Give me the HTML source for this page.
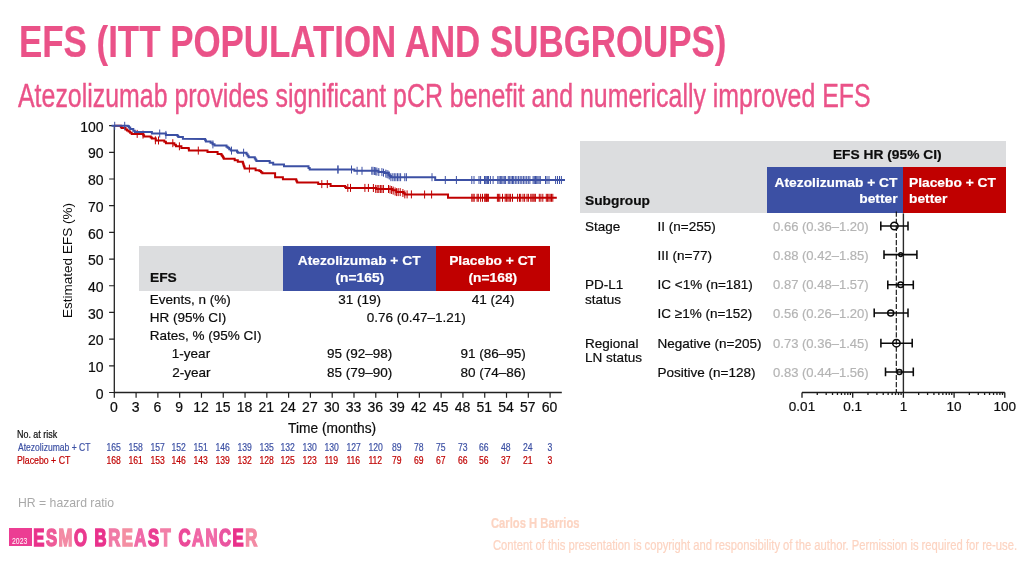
<!DOCTYPE html>
<html lang="en"><head><meta charset="utf-8"><title>EFS (ITT population and subgroups)</title>
<style>
html,body{margin:0;padding:0;background:#fff}
body{width:1031px;height:572px;position:relative;overflow:hidden;font-family:"Liberation Sans",sans-serif}
.t{position:absolute;white-space:nowrap;margin:0;-webkit-text-stroke:0.2px currentColor}
.b{position:absolute}
.sub{-webkit-text-stroke:0.4px #ea5288}
.ns{-webkit-text-stroke:0}
svg{position:absolute;left:0;top:0}
svg text{font-family:"Liberation Sans",sans-serif}
</style></head><body>
<div class="b" style="left:139.3px;top:246.4px;width:143.7px;height:44.2px;background:#dcdddf"></div><div class="b" style="left:282.8px;top:246.4px;width:153.5px;height:44.2px;background:#3c50a4"></div><div class="b" style="left:436.2px;top:246.4px;width:114.2px;height:44.2px;background:#c00000"></div><div class="b" style="left:579.6px;top:141.3px;width:426.1px;height:72.1px;background:#dcdddf"></div><div class="b" style="left:767.3px;top:167.2px;width:136.1px;height:46.2px;background:#3c50a4"></div><div class="b" style="left:903.3px;top:167.2px;width:102.4px;height:46.2px;background:#c00000"></div>
<div class="b" style="left:9.1px;top:528.1px;width:22.7px;height:17.8px;background:#ec3d93"></div>
<svg width="1031" height="572" viewBox="0 0 1031 572">
<path d="M114.3 125.1V392.5H561.8" fill="none" stroke="#222" stroke-width="1.3"/>
<path d="M109.1 392.50H114.3M109.1 365.81H114.3M109.1 339.12H114.3M109.1 312.43H114.3M109.1 285.74H114.3M109.1 259.05H114.3M109.1 232.36H114.3M109.1 205.67H114.3M109.1 178.98H114.3M109.1 152.29H114.3M109.1 125.60H114.3M114.30 392.5v5.2M136.09 392.5v5.2M157.88 392.5v5.2M179.67 392.5v5.2M201.46 392.5v5.2M223.25 392.5v5.2M245.04 392.5v5.2M266.83 392.5v5.2M288.62 392.5v5.2M310.41 392.5v5.2M332.20 392.5v5.2M353.99 392.5v5.2M375.78 392.5v5.2M397.57 392.5v5.2M419.36 392.5v5.2M441.15 392.5v5.2M462.94 392.5v5.2M484.73 392.5v5.2M506.52 392.5v5.2M528.31 392.5v5.2M550.10 392.5v5.2" fill="none" stroke="#222" stroke-width="1.2"/>
<path d="M114.7 125.8L120.1 125.8H120.85V126.95H121.60V128.10H125.50V129.60H127.05V130.60H128.60V131.60H130.15V132.75H131.70V133.90L142.6 133.9H143.35V135.25H144.10V136.60L149.6 136.6H150.75V137.60H151.90V138.60H155.80V140.50L162.8 140.5H164.35V141.85H165.90V143.20L172.8 143.2H174.35V144.75H175.90V146.30L179.8 146.3H181.40V147.90L186.8 147.9H188.50V148.50H188.90V150.60L206.7 150.6H207.50V152.10L216.0 152.1H217.60V154.00L220.7 154.0H221.47V155.18H222.25V156.35H223.03V157.52H223.80V158.70L233.1 158.7H234.70V160.30H237.80V161.80L242.4 161.8H242.86V163.16H243.32V164.52H243.78V165.88H244.24V167.24H244.70V168.60L254.0 168.6H255.60V170.30H259.50V171.10H260.90V172.20H262.30V173.30L274.7 173.3H275.10V177.20L282.1 177.2H282.90V179.30L295.7 179.3H296.20V180.40H296.70V181.50H297.20V182.60L317.4 182.6H318.20V184.10L329.8 184.1H330.60V185.90L344.3 185.9H345.10V186.90H345.90V187.90L373.0 187.9H376.10V189.00L388.5 189.0H392.40V190.20H396.30V192.10L401.7 192.1H403.25V193.25H404.80V194.40L447.2 194.6H448.00V197.80L556.8 197.8" fill="none" stroke="#c00000" stroke-width="2" stroke-linejoin="miter"/>
<path d="M137.2 129.9v8M143.0 130.6v8M155.4 136.3v8M158.5 136.5v8M172.8 139.2v8M179.4 142.3v8M198.3 146.6v8M249.4 164.6v8M321.8 180.1v8M327.3 180.1v8M347.8 183.9v8M350.5 183.9v8M364.9 183.9v8M368.4 183.9v8M373.4 184.0v8M375.7 184.9v8M377.2 185.0v8M378.8 185.0v8M380.4 185.0v8M381.9 185.0v8M383.4 185.0v8M388.5 185.0v8M390.0 185.5v8M391.6 186.0v8M393.2 186.6v8M395.1 187.5v8M396.6 188.1v8M398.2 188.1v8M400.2 188.1v8M402.9 189.0v8M404.8 190.4v8M407.1 190.4v8M411.4 190.4v8M424.6 190.5v8M431.6 190.5v8M471.8 193.8v8M473.0 193.8v8M474.2 193.8v8M477.1 193.8v8M478.3 193.8v8M480.6 193.8v8M482.5 193.8v8M484.9 193.8v8M486.4 193.8v8M488.4 193.8v8M485.0 193.8v8M486.2 193.8v8M487.4 193.8v8M497.4 193.8v8M498.6 193.8v8M499.8 193.8v8M502.5 193.8v8M505.2 193.8v8M506.6 193.8v8M507.9 193.8v8M509.2 193.8v8M510.6 193.8v8M512.5 193.8v8M517.6 193.8v8M519.5 193.8v8M520.7 193.8v8M523.0 193.8v8M524.6 193.8v8M527.0 193.8v8M528.4 193.8v8M530.8 193.8v8M532.0 193.8v8M533.1 193.8v8M534.2 193.8v8M535.4 193.8v8M539.3 193.8v8M540.9 193.8v8M542.8 193.8v8M546.3 193.8v8M547.6 193.8v8M548.9 193.8v8M550.2 193.8v8M551.5 193.8v8M552.8 193.8v8" fill="none" stroke="#c00000" stroke-width="1"/>
<path d="M111.5 125.8L124.7 125.8H127.80V126.30H129.00V127.60H130.20V128.90H133.30V130.80H134.80V132.10L150.3 132.1H151.90V133.50L162.8 133.5H165.90V134.90L176.7 134.9H177.50V135.95H178.30V137.00L181.5 137.0H182.90V138.80L204.4 138.9H205.15V140.25H205.90V141.60H210.60V142.80H212.55V144.15H214.50V145.50L225.3 145.5H226.50V146.65H227.70V147.80H229.25V149.20H230.80V150.60L236.2 150.6H237.00V151.65H237.80V152.70L245.5 152.7H246.53V154.20H247.57V155.70H248.60V157.20L254.0 157.2H254.80V158.47H255.60V159.73H256.40V161.00L268.9 160.9H269.70V162.80L272.4 162.8H273.20V164.40L283.3 164.4H284.00V166.30L307.3 166.3H308.50V167.90H309.70V169.50L352.8 169.5H354.40V170.80L373.8 170.8H378.40V172.00L381.5 172.0H384.60V173.10H388.50V174.70H389.70V175.95H390.90V177.20L434.8 177.2H435.20V180.00L565.0 180.0" fill="none" stroke="#3c50a4" stroke-width="2" stroke-linejoin="miter"/>
<path d="M114.7 121.8v8M124.7 121.8v8M159.7 129.5v8M165.9 130.9v8M212.9 140.4v8M231.5 146.6v8M243.6 148.7v8M338.0 165.5v8M337.9 165.5v8M351.5 165.5v8M357.1 166.8v8M362.0 166.8v8M371.8 166.8v8M373.0 166.8v8M374.6 167.0v8M375.7 167.3v8M376.9 167.6v8M378.8 168.0v8M381.9 168.1v8M383.5 168.7v8M385.8 169.6v8M387.0 170.1v8M388.1 170.5v8M389.3 171.5v8M390.9 173.2v8M392.8 173.2v8M394.3 173.2v8M395.9 173.2v8M397.5 173.2v8M399.0 173.2v8M400.6 173.2v8M404.8 173.2v8M406.4 173.2v8M432.0 173.2v8M445.3 176.0v8M456.4 176.0v8M471.8 176.0v8M474.0 176.0v8M479.0 176.0v8M480.6 176.0v8M484.5 176.0v8M485.7 176.0v8M486.8 176.0v8M487.6 176.0v8M488.5 176.0v8M490.4 176.0v8M493.1 176.0v8M497.8 176.0v8M499.1 176.0v8M500.4 176.0v8M501.7 176.0v8M503.0 176.0v8M504.3 176.0v8M505.6 176.0v8M508.3 176.0v8M509.7 176.0v8M511.1 176.0v8M512.5 176.0v8M513.7 176.0v8M515.3 176.0v8M516.9 176.0v8M518.6 176.0v8M520.2 176.0v8M521.8 176.0v8M523.4 176.0v8M525.0 176.0v8M526.7 176.0v8M528.3 176.0v8M529.9 176.0v8M533.1 176.0v8M534.3 176.0v8M535.5 176.0v8M536.7 176.0v8M537.9 176.0v8M539.1 176.0v8M540.3 176.0v8M545.5 176.0v8M547.0 176.0v8M549.0 176.0v8M555.6 176.0v8M557.5 176.0v8M559.5 176.0v8M561.4 176.0v8" fill="none" stroke="#3c50a4" stroke-width="1"/>
<text transform="translate(72.3,317.9) rotate(-90)" font-size="13.5" fill="#0c0c0c">Estimated EFS (%)</text>
<path d="M896.3 211.6V392.5" stroke="#0a0a0a" stroke-width="1.1" stroke-dasharray="5.2 1.9" fill="none"/>
<path d="M903.4 213.4V392.5" stroke="#2a2a2a" stroke-width="1.4" fill="none"/>
<path d="M802.0 392.5H1004.8M802.00 392.5v5.2M817.26 392.5v2.6M826.19 392.5v2.6M832.52 392.5v2.6M837.44 392.5v2.6M841.45 392.5v2.6M844.85 392.5v2.6M847.79 392.5v2.6M850.38 392.5v2.6M852.70 392.5v5.2M867.96 392.5v2.6M876.89 392.5v2.6M883.22 392.5v2.6M888.14 392.5v2.6M892.15 392.5v2.6M895.55 392.5v2.6M898.49 392.5v2.6M901.08 392.5v2.6M903.40 392.5v5.2M918.66 392.5v2.6M927.59 392.5v2.6M933.92 392.5v2.6M938.84 392.5v2.6M942.85 392.5v2.6M946.25 392.5v2.6M949.19 392.5v2.6M951.78 392.5v2.6M954.10 392.5v5.2M969.36 392.5v2.6M978.29 392.5v2.6M984.62 392.5v2.6M989.54 392.5v2.6M993.55 392.5v2.6M996.95 392.5v2.6M999.89 392.5v2.6M1002.48 392.5v2.6M1004.80 392.5v5.2" stroke="#1a1a1a" stroke-width="1.3" fill="none"/>
<circle cx="894.4" cy="226.0" r="3.7" fill="none" stroke="#0a0a0a" stroke-width="1.5"/>
<circle cx="900.7" cy="254.6" r="1.9" fill="none" stroke="#0a0a0a" stroke-width="1.5"/>
<circle cx="900.6" cy="284.8" r="2.8" fill="none" stroke="#0a0a0a" stroke-width="1.5"/>
<circle cx="890.7" cy="312.9" r="3.0" fill="none" stroke="#0a0a0a" stroke-width="1.5"/>
<circle cx="896.4" cy="343.2" r="3.7" fill="none" stroke="#0a0a0a" stroke-width="1.5"/>
<circle cx="899.4" cy="371.9" r="2.5" fill="none" stroke="#0a0a0a" stroke-width="1.5"/>
<path d="M880.8 221.6v8.8M908.0 221.6v8.8M880.8 226.0H908.0M884.0 250.2v8.8M916.9 250.2v8.8M884.0 254.6H916.9M887.8 280.4v8.8M913.3 280.4v8.8M887.8 284.8H913.3M874.2 308.5v8.8M908.0 308.5v8.8M874.2 312.9H908.0M880.9 338.8v8.8M912.2 338.8v8.8M880.9 343.2H912.2M885.5 367.5v8.8M913.3 367.5v8.8M885.5 371.9H913.3" stroke="#0a0a0a" stroke-width="1.55" fill="none"/>
<text transform="translate(33.28,545.60) scale(0.6968,1)" font-size="23.9" font-weight="700" stroke-width="1.6" stroke-linejoin="miter" letter-spacing="2.2" xml:space="preserve"><tspan fill="#e9318b" stroke="#e9318b">E</tspan><tspan fill="#ee5b98" stroke="#ee5b98">S</tspan><tspan fill="#f38aa4" stroke="#f38aa4">M</tspan><tspan fill="#ea3a8f" stroke="#ea3a8f">O</tspan> <tspan fill="#e9328c" stroke="#e9328c">B</tspan><tspan fill="#f07aa6" stroke="#f07aa6">R</tspan><tspan fill="#f48fa3" stroke="#f48fa3">E</tspan><tspan fill="#f06aa8" stroke="#f06aa8">A</tspan><tspan fill="#ea3f93" stroke="#ea3f93">S</tspan><tspan fill="#f27fa8" stroke="#f27fa8">T</tspan> <tspan fill="#ec4a99" stroke="#ec4a99">C</tspan><tspan fill="#f066a6" stroke="#f066a6">A</tspan><tspan fill="#f06aa8" stroke="#f06aa8">N</tspan><tspan fill="#ea55a0" stroke="#ea55a0">C</tspan><tspan fill="#e9318b" stroke="#e9318b">E</tspan><tspan fill="#f38aa4" stroke="#f38aa4">R</tspan></text>
</svg>
<div class="t " style="left:18.67px;top:16px;font-size:44.9px;line-height:51px;color:#ea5288;font-weight:700;transform:scaleX(0.7772);transform-origin:0 0;">EFS (ITT POPULATION AND SUBGROUPS)</div>
<div class="t sub" style="left:18.15px;top:78px;font-size:32.4px;line-height:36px;color:#ea5288;transform:scaleX(0.7688);transform-origin:0 0;">Atezolizumab provides significant pCR benefit and numerically improved EFS</div>
<div class="t " style="left:95.81px;top:386px;font-size:14px;line-height:16px;color:#0c0c0c;">0</div>
<div class="t " style="left:88.03px;top:359px;font-size:14px;line-height:16px;color:#0c0c0c;">10</div>
<div class="t " style="left:88.03px;top:332px;font-size:14px;line-height:16px;color:#0c0c0c;">20</div>
<div class="t " style="left:88.03px;top:306px;font-size:14px;line-height:16px;color:#0c0c0c;">30</div>
<div class="t " style="left:88.03px;top:279px;font-size:14px;line-height:16px;color:#0c0c0c;">40</div>
<div class="t " style="left:88.03px;top:252px;font-size:14px;line-height:16px;color:#0c0c0c;">50</div>
<div class="t " style="left:88.03px;top:226px;font-size:14px;line-height:16px;color:#0c0c0c;">60</div>
<div class="t " style="left:88.03px;top:199px;font-size:14px;line-height:16px;color:#0c0c0c;">70</div>
<div class="t " style="left:88.03px;top:172px;font-size:14px;line-height:16px;color:#0c0c0c;">80</div>
<div class="t " style="left:88.03px;top:145px;font-size:14px;line-height:16px;color:#0c0c0c;">90</div>
<div class="t " style="left:80.24px;top:119px;font-size:14px;line-height:16px;color:#0c0c0c;">100</div>
<div class="t " style="left:109.91px;top:399px;font-size:14px;line-height:16px;color:#0c0c0c;">0</div>
<div class="t " style="left:131.70px;top:399px;font-size:14px;line-height:16px;color:#0c0c0c;">3</div>
<div class="t " style="left:153.49px;top:399px;font-size:14px;line-height:16px;color:#0c0c0c;">6</div>
<div class="t " style="left:175.28px;top:399px;font-size:14px;line-height:16px;color:#0c0c0c;">9</div>
<div class="t " style="left:193.17px;top:399px;font-size:14px;line-height:16px;color:#0c0c0c;">12</div>
<div class="t " style="left:214.96px;top:399px;font-size:14px;line-height:16px;color:#0c0c0c;">15</div>
<div class="t " style="left:236.75px;top:399px;font-size:14px;line-height:16px;color:#0c0c0c;">18</div>
<div class="t " style="left:258.54px;top:399px;font-size:14px;line-height:16px;color:#0c0c0c;">21</div>
<div class="t " style="left:280.33px;top:399px;font-size:14px;line-height:16px;color:#0c0c0c;">24</div>
<div class="t " style="left:302.12px;top:399px;font-size:14px;line-height:16px;color:#0c0c0c;">27</div>
<div class="t " style="left:323.91px;top:399px;font-size:14px;line-height:16px;color:#0c0c0c;">30</div>
<div class="t " style="left:345.70px;top:399px;font-size:14px;line-height:16px;color:#0c0c0c;">33</div>
<div class="t " style="left:367.49px;top:399px;font-size:14px;line-height:16px;color:#0c0c0c;">36</div>
<div class="t " style="left:389.28px;top:399px;font-size:14px;line-height:16px;color:#0c0c0c;">39</div>
<div class="t " style="left:411.07px;top:399px;font-size:14px;line-height:16px;color:#0c0c0c;">42</div>
<div class="t " style="left:432.86px;top:399px;font-size:14px;line-height:16px;color:#0c0c0c;">45</div>
<div class="t " style="left:454.65px;top:399px;font-size:14px;line-height:16px;color:#0c0c0c;">48</div>
<div class="t " style="left:476.44px;top:399px;font-size:14px;line-height:16px;color:#0c0c0c;">51</div>
<div class="t " style="left:498.23px;top:399px;font-size:14px;line-height:16px;color:#0c0c0c;">54</div>
<div class="t " style="left:520.02px;top:399px;font-size:14px;line-height:16px;color:#0c0c0c;">57</div>
<div class="t " style="left:541.81px;top:399px;font-size:14px;line-height:16px;color:#0c0c0c;">60</div>
<div class="t " style="left:287.99px;top:420px;font-size:14px;line-height:16px;color:#0c0c0c;transform:scaleX(0.9827);transform-origin:0 0;">Time (months)</div>
<div class="t " style="left:149.68px;top:270px;font-size:13.5px;line-height:15px;color:#0c0c0c;font-weight:700;transform:scaleX(1.0200);transform-origin:0 0;">EFS</div>
<div class="t " style="left:299.31px;top:253px;font-size:13.5px;line-height:15px;color:#fff;font-weight:700;transform:scaleX(1.0200);transform-origin:50% 0;">Atezolizumab + CT</div>
<div class="t " style="left:335.68px;top:270px;font-size:13.5px;line-height:15px;color:#fff;font-weight:700;transform:scaleX(1.0200);transform-origin:50% 0;">(n=165)</div>
<div class="t " style="left:450.42px;top:253px;font-size:13.5px;line-height:15px;color:#fff;font-weight:700;transform:scaleX(1.0200);transform-origin:50% 0;">Placebo + CT</div>
<div class="t " style="left:469.18px;top:270px;font-size:13.5px;line-height:15px;color:#fff;font-weight:700;transform:scaleX(1.0200);transform-origin:50% 0;">(n=168)</div>
<div class="t " style="left:149.69px;top:292px;font-size:13.5px;line-height:15px;color:#0c0c0c;">Events, n (%)</div>
<div class="t " style="left:149.69px;top:310px;font-size:13.5px;line-height:15px;color:#0c0c0c;">HR (95% CI)</div>
<div class="t " style="left:149.69px;top:328px;font-size:13.5px;line-height:15px;color:#0c0c0c;">Rates, % (95% CI)</div>
<div class="t " style="left:171.87px;top:346px;font-size:13.5px;line-height:15px;color:#0c0c0c;">1-year</div>
<div class="t " style="left:172.22px;top:365px;font-size:13.5px;line-height:15px;color:#0c0c0c;">2-year</div>
<div class="t " style="left:338.21px;top:292px;font-size:13.5px;line-height:15px;color:#0c0c0c;">31 (19)</div>
<div class="t " style="left:471.71px;top:292px;font-size:13.5px;line-height:15px;color:#0c0c0c;">41 (24)</div>
<div class="t " style="left:366.76px;top:310px;font-size:13.5px;line-height:15px;color:#0c0c0c;">0.76 (0.47–1.21)</div>
<div class="t " style="left:326.95px;top:346px;font-size:13.5px;line-height:15px;color:#0c0c0c;">95 (92–98)</div>
<div class="t " style="left:460.45px;top:346px;font-size:13.5px;line-height:15px;color:#0c0c0c;">91 (86–95)</div>
<div class="t " style="left:326.95px;top:365px;font-size:13.5px;line-height:15px;color:#0c0c0c;">85 (79–90)</div>
<div class="t " style="left:460.45px;top:365px;font-size:13.5px;line-height:15px;color:#0c0c0c;">80 (74–86)</div>
<div class="t " style="left:17.27px;top:429px;font-size:10.4px;line-height:11px;color:#0c0c0c;transform:scaleX(0.8592);transform-origin:0 0;">No. at risk</div>
<div class="t " style="left:17.98px;top:442px;font-size:10.4px;line-height:11px;color:#3c50a4;transform:scaleX(0.8226);transform-origin:0 0;">Atezolizumab + CT</div>
<div class="t " style="left:17.28px;top:455px;font-size:10.4px;line-height:11px;color:#c00000;transform:scaleX(0.8439);transform-origin:0 0;">Placebo + CT</div>
<div class="t " style="left:105.12px;top:442px;font-size:10.4px;line-height:11px;color:#3c50a4;transform:scaleX(0.8300);transform-origin:50% 0;">165</div>
<div class="t " style="left:105.12px;top:455px;font-size:10.4px;line-height:11px;color:#c00000;transform:scaleX(0.8300);transform-origin:50% 0;">168</div>
<div class="t " style="left:126.91px;top:442px;font-size:10.4px;line-height:11px;color:#3c50a4;transform:scaleX(0.8300);transform-origin:50% 0;">158</div>
<div class="t " style="left:126.91px;top:455px;font-size:10.4px;line-height:11px;color:#c00000;transform:scaleX(0.8300);transform-origin:50% 0;">161</div>
<div class="t " style="left:148.70px;top:442px;font-size:10.4px;line-height:11px;color:#3c50a4;transform:scaleX(0.8300);transform-origin:50% 0;">157</div>
<div class="t " style="left:148.70px;top:455px;font-size:10.4px;line-height:11px;color:#c00000;transform:scaleX(0.8300);transform-origin:50% 0;">153</div>
<div class="t " style="left:170.49px;top:442px;font-size:10.4px;line-height:11px;color:#3c50a4;transform:scaleX(0.8300);transform-origin:50% 0;">152</div>
<div class="t " style="left:170.49px;top:455px;font-size:10.4px;line-height:11px;color:#c00000;transform:scaleX(0.8300);transform-origin:50% 0;">146</div>
<div class="t " style="left:192.28px;top:442px;font-size:10.4px;line-height:11px;color:#3c50a4;transform:scaleX(0.8300);transform-origin:50% 0;">151</div>
<div class="t " style="left:192.28px;top:455px;font-size:10.4px;line-height:11px;color:#c00000;transform:scaleX(0.8300);transform-origin:50% 0;">143</div>
<div class="t " style="left:214.07px;top:442px;font-size:10.4px;line-height:11px;color:#3c50a4;transform:scaleX(0.8300);transform-origin:50% 0;">146</div>
<div class="t " style="left:214.07px;top:455px;font-size:10.4px;line-height:11px;color:#c00000;transform:scaleX(0.8300);transform-origin:50% 0;">139</div>
<div class="t " style="left:235.86px;top:442px;font-size:10.4px;line-height:11px;color:#3c50a4;transform:scaleX(0.8300);transform-origin:50% 0;">139</div>
<div class="t " style="left:235.86px;top:455px;font-size:10.4px;line-height:11px;color:#c00000;transform:scaleX(0.8300);transform-origin:50% 0;">132</div>
<div class="t " style="left:257.65px;top:442px;font-size:10.4px;line-height:11px;color:#3c50a4;transform:scaleX(0.8300);transform-origin:50% 0;">135</div>
<div class="t " style="left:257.65px;top:455px;font-size:10.4px;line-height:11px;color:#c00000;transform:scaleX(0.8300);transform-origin:50% 0;">128</div>
<div class="t " style="left:279.44px;top:442px;font-size:10.4px;line-height:11px;color:#3c50a4;transform:scaleX(0.8300);transform-origin:50% 0;">132</div>
<div class="t " style="left:279.44px;top:455px;font-size:10.4px;line-height:11px;color:#c00000;transform:scaleX(0.8300);transform-origin:50% 0;">125</div>
<div class="t " style="left:301.23px;top:442px;font-size:10.4px;line-height:11px;color:#3c50a4;transform:scaleX(0.8300);transform-origin:50% 0;">130</div>
<div class="t " style="left:301.23px;top:455px;font-size:10.4px;line-height:11px;color:#c00000;transform:scaleX(0.8300);transform-origin:50% 0;">123</div>
<div class="t " style="left:323.02px;top:442px;font-size:10.4px;line-height:11px;color:#3c50a4;transform:scaleX(0.8300);transform-origin:50% 0;">130</div>
<div class="t " style="left:323.41px;top:455px;font-size:10.4px;line-height:11px;color:#c00000;transform:scaleX(0.8300);transform-origin:50% 0;">119</div>
<div class="t " style="left:344.81px;top:442px;font-size:10.4px;line-height:11px;color:#3c50a4;transform:scaleX(0.8300);transform-origin:50% 0;">127</div>
<div class="t " style="left:345.20px;top:455px;font-size:10.4px;line-height:11px;color:#c00000;transform:scaleX(0.8300);transform-origin:50% 0;">116</div>
<div class="t " style="left:366.60px;top:442px;font-size:10.4px;line-height:11px;color:#3c50a4;transform:scaleX(0.8300);transform-origin:50% 0;">120</div>
<div class="t " style="left:366.99px;top:455px;font-size:10.4px;line-height:11px;color:#c00000;transform:scaleX(0.8300);transform-origin:50% 0;">112</div>
<div class="t " style="left:391.29px;top:442px;font-size:10.4px;line-height:11px;color:#3c50a4;transform:scaleX(0.8300);transform-origin:50% 0;">89</div>
<div class="t " style="left:391.29px;top:455px;font-size:10.4px;line-height:11px;color:#c00000;transform:scaleX(0.8300);transform-origin:50% 0;">79</div>
<div class="t " style="left:413.08px;top:442px;font-size:10.4px;line-height:11px;color:#3c50a4;transform:scaleX(0.8300);transform-origin:50% 0;">78</div>
<div class="t " style="left:413.08px;top:455px;font-size:10.4px;line-height:11px;color:#c00000;transform:scaleX(0.8300);transform-origin:50% 0;">69</div>
<div class="t " style="left:434.87px;top:442px;font-size:10.4px;line-height:11px;color:#3c50a4;transform:scaleX(0.8300);transform-origin:50% 0;">75</div>
<div class="t " style="left:434.87px;top:455px;font-size:10.4px;line-height:11px;color:#c00000;transform:scaleX(0.8300);transform-origin:50% 0;">67</div>
<div class="t " style="left:456.66px;top:442px;font-size:10.4px;line-height:11px;color:#3c50a4;transform:scaleX(0.8300);transform-origin:50% 0;">73</div>
<div class="t " style="left:456.66px;top:455px;font-size:10.4px;line-height:11px;color:#c00000;transform:scaleX(0.8300);transform-origin:50% 0;">66</div>
<div class="t " style="left:478.45px;top:442px;font-size:10.4px;line-height:11px;color:#3c50a4;transform:scaleX(0.8300);transform-origin:50% 0;">66</div>
<div class="t " style="left:478.45px;top:455px;font-size:10.4px;line-height:11px;color:#c00000;transform:scaleX(0.8300);transform-origin:50% 0;">56</div>
<div class="t " style="left:500.24px;top:442px;font-size:10.4px;line-height:11px;color:#3c50a4;transform:scaleX(0.8300);transform-origin:50% 0;">48</div>
<div class="t " style="left:500.24px;top:455px;font-size:10.4px;line-height:11px;color:#c00000;transform:scaleX(0.8300);transform-origin:50% 0;">37</div>
<div class="t " style="left:522.03px;top:442px;font-size:10.4px;line-height:11px;color:#3c50a4;transform:scaleX(0.8300);transform-origin:50% 0;">24</div>
<div class="t " style="left:522.03px;top:455px;font-size:10.4px;line-height:11px;color:#c00000;transform:scaleX(0.8300);transform-origin:50% 0;">21</div>
<div class="t " style="left:546.71px;top:442px;font-size:10.4px;line-height:11px;color:#3c50a4;transform:scaleX(0.8300);transform-origin:50% 0;">3</div>
<div class="t " style="left:546.71px;top:455px;font-size:10.4px;line-height:11px;color:#c00000;transform:scaleX(0.8300);transform-origin:50% 0;">3</div>
<div class="t " style="left:833.64px;top:147px;font-size:13.5px;line-height:15px;color:#0c0c0c;font-weight:700;transform:scaleX(1.0200);transform-origin:50% 0;">EFS HR (95% CI)</div>
<div class="t " style="left:585.10px;top:193px;font-size:13.5px;line-height:15px;color:#0c0c0c;font-weight:700;transform:scaleX(1.0200);transform-origin:0 0;">Subgroup</div>
<div class="t " style="left:777.31px;top:175px;font-size:13.5px;line-height:15px;color:#fff;font-weight:700;transform:scaleX(1.0200);transform-origin:100% 0;">Atezolizumab + CT</div>
<div class="t " style="left:860.19px;top:191px;font-size:13.5px;line-height:15px;color:#fff;font-weight:700;transform:scaleX(1.0200);transform-origin:100% 0;">better</div>
<div class="t " style="left:909.30px;top:175px;font-size:13.5px;line-height:15px;color:#fff;font-weight:700;transform:scaleX(1.0200);transform-origin:0 0;">Placebo + CT</div>
<div class="t " style="left:909.30px;top:191px;font-size:13.5px;line-height:15px;color:#fff;font-weight:700;transform:scaleX(1.0200);transform-origin:0 0;">better</div>
<div class="t " style="left:657.50px;top:219px;font-size:13.5px;line-height:15px;color:#0c0c0c;">II (n=255)</div>
<div class="t " style="left:772.79px;top:219px;font-size:13.5px;line-height:15px;color:#b4b4b4;transform:scaleX(0.9661);transform-origin:0 0;">0.66 (0.36–1.20)</div>
<div class="t " style="left:657.50px;top:248px;font-size:13.5px;line-height:15px;color:#0c0c0c;">III (n=77)</div>
<div class="t " style="left:772.79px;top:248px;font-size:13.5px;line-height:15px;color:#b4b4b4;transform:scaleX(0.9661);transform-origin:0 0;">0.88 (0.42–1.85)</div>
<div class="t " style="left:657.50px;top:277px;font-size:13.5px;line-height:15px;color:#0c0c0c;">IC &lt;1% (n=181)</div>
<div class="t " style="left:772.79px;top:277px;font-size:13.5px;line-height:15px;color:#b4b4b4;transform:scaleX(0.9661);transform-origin:0 0;">0.87 (0.48–1.57)</div>
<div class="t " style="left:657.50px;top:306px;font-size:13.5px;line-height:15px;color:#0c0c0c;">IC ≥1% (n=152)</div>
<div class="t " style="left:772.79px;top:306px;font-size:13.5px;line-height:15px;color:#b4b4b4;transform:scaleX(0.9661);transform-origin:0 0;">0.56 (0.26–1.20)</div>
<div class="t " style="left:657.50px;top:336px;font-size:13.5px;line-height:15px;color:#0c0c0c;">Negative (n=205)</div>
<div class="t " style="left:772.79px;top:336px;font-size:13.5px;line-height:15px;color:#b4b4b4;transform:scaleX(0.9661);transform-origin:0 0;">0.73 (0.36–1.45)</div>
<div class="t " style="left:657.50px;top:365px;font-size:13.5px;line-height:15px;color:#0c0c0c;">Positive (n=128)</div>
<div class="t " style="left:772.79px;top:365px;font-size:13.5px;line-height:15px;color:#b4b4b4;transform:scaleX(0.9661);transform-origin:0 0;">0.83 (0.44–1.56)</div>
<div class="t " style="left:585.10px;top:219px;font-size:13.5px;line-height:15px;color:#0c0c0c;">Stage</div>
<div class="t " style="left:585.10px;top:277px;font-size:13.5px;line-height:15px;color:#0c0c0c;">PD-L1</div>
<div class="t " style="left:585.10px;top:292px;font-size:13.5px;line-height:15px;color:#0c0c0c;">status</div>
<div class="t " style="left:585.10px;top:336px;font-size:13.5px;line-height:15px;color:#0c0c0c;">Regional</div>
<div class="t " style="left:585.10px;top:350px;font-size:13.5px;line-height:15px;color:#0c0c0c;">LN status</div>
<div class="t " style="left:788.86px;top:399px;font-size:13.5px;line-height:15px;color:#0c0c0c;">0.01</div>
<div class="t " style="left:843.32px;top:399px;font-size:13.5px;line-height:15px;color:#0c0c0c;">0.1</div>
<div class="t " style="left:899.65px;top:399px;font-size:13.5px;line-height:15px;color:#0c0c0c;">1</div>
<div class="t " style="left:946.59px;top:399px;font-size:13.5px;line-height:15px;color:#0c0c0c;">10</div>
<div class="t " style="left:993.54px;top:399px;font-size:13.5px;line-height:15px;color:#0c0c0c;">100</div>
<div class="t ns" style="left:17.90px;top:495px;font-size:13px;line-height:15px;color:#a9a9a9;transform:scaleX(0.9401);transform-origin:0 0;">HR = hazard ratio</div>
<div class="t " style="left:490.84px;top:515px;font-size:14.6px;line-height:16px;color:#fcd4c2;font-weight:700;transform:scaleX(0.7692);transform-origin:0 0;">Carlos H Barrios</div>
<div class="t " style="left:493.03px;top:537px;font-size:14.6px;line-height:16px;color:#fcd4c2;transform:scaleX(0.7691);transform-origin:0 0;">Content of this presentation is copyright and responsibility of the author. Permission is required for re-use.</div>
<div class="t ns" style="left:11.55px;top:536px;font-size:8.4px;line-height:10px;color:#fff;transform:scaleX(0.8214);transform-origin:0 0;">2023</div>
</body></html>
